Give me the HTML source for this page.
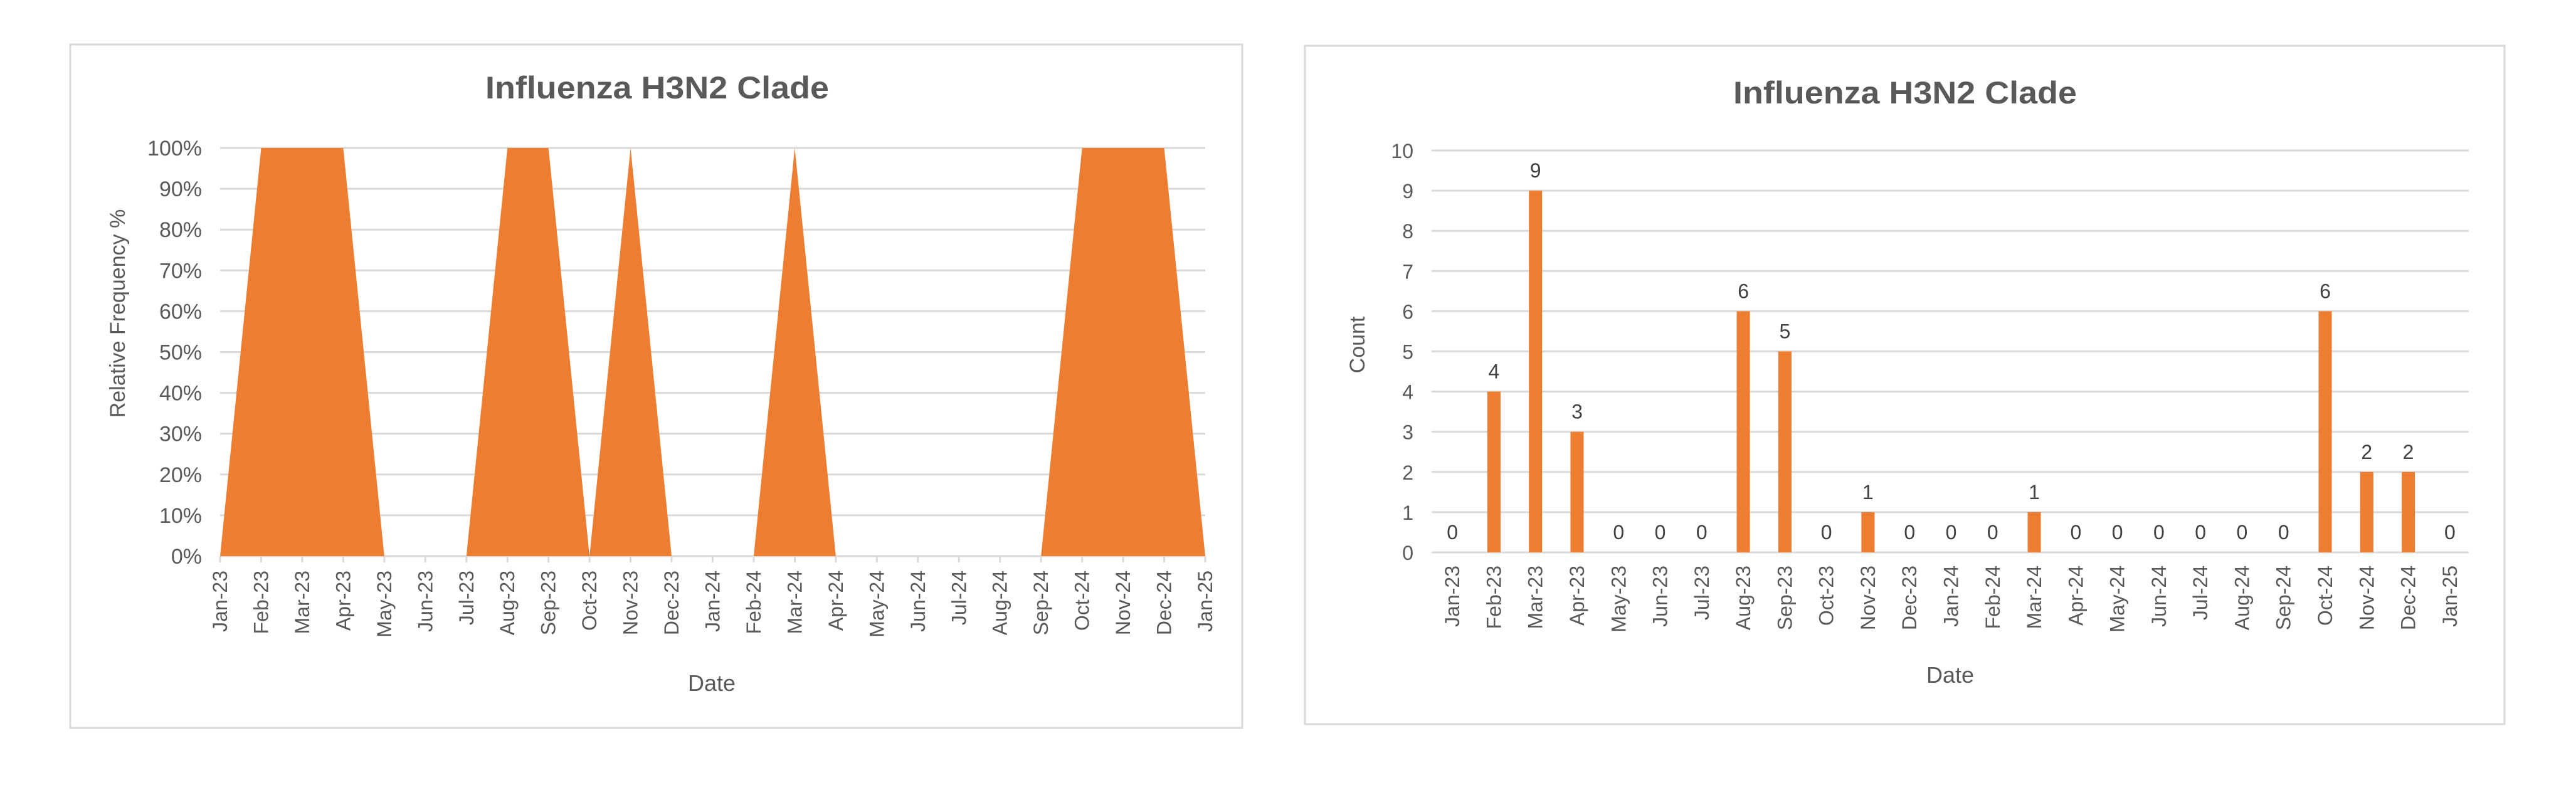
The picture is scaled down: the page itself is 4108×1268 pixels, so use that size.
<!DOCTYPE html>
<html><head><meta charset="utf-8"><style>
html,body{margin:0;padding:0;background:#fff;}
svg{display:block;font-family:"Liberation Sans",sans-serif;}
</style></head><body>
<svg id="s" width="4108" height="1268" viewBox="0 0 4108 1268" xmlns="http://www.w3.org/2000/svg">
<rect x="0" y="0" width="4108" height="1268" fill="#fff"/>
<g>
<rect x="112" y="71" width="1869" height="1090" fill="#fff" stroke="#d9d9d9" stroke-width="3"/>
<text x="1048" y="157" text-anchor="middle" font-size="50" font-weight="bold" fill="#595959" textLength="548" lengthAdjust="spacingAndGlyphs">Influenza H3N2 Clade</text>
<text transform="translate(199,500) rotate(-90)" text-anchor="middle" font-size="34" fill="#595959">Relative Frequency %</text>
<text x="1135" y="1102" text-anchor="middle" font-size="36" fill="#595959">Date</text>
<g id="aGrid"></g><g id="aArea"></g><g id="aX"></g>
</g>
<g>
<rect x="2081" y="73" width="1913" height="1082" fill="#fff" stroke="#d9d9d9" stroke-width="3"/>
<text x="3038" y="165" text-anchor="middle" font-size="50" font-weight="bold" fill="#595959" textLength="548" lengthAdjust="spacingAndGlyphs">Influenza H3N2 Clade</text>
<text transform="translate(2176,550) rotate(-90)" text-anchor="middle" font-size="34" fill="#595959">Count</text>
<text x="3110" y="1089" text-anchor="middle" font-size="36" fill="#595959">Date</text>
<g id="bGrid"></g><g id="bBars"></g><g id="bX"></g>
</g>
</svg>
<script>
const months = ["Jan-23","Feb-23","Mar-23","Apr-23","May-23","Jun-23","Jul-23","Aug-23","Sep-23","Oct-23","Nov-23","Dec-23","Jan-24","Feb-24","Mar-24","Apr-24","May-24","Jun-24","Jul-24","Aug-24","Sep-24","Oct-24","Nov-24","Dec-24","Jan-25"];
const relFreq = [0,1,1,1,0,0,0,1,1,0,1,0,0,0,1,0,0,0,0,0,0,1,1,1,0];
const counts = [0,4,9,3,0,0,0,6,5,0,1,0,0,0,1,0,0,0,0,0,0,6,2,2,0];
const pctTicks = [0,0.1,0.2,0.3,0.4,0.5,0.6,0.7,0.8,0.9,1];
const pctTickLabels = ["0%","10%","20%","30%","40%","50%","60%","70%","80%","90%","100%"];
const countTicks = [0,1,2,3,4,5,6,7,8,9,10];

const NS="http://www.w3.org/2000/svg";
function mk(tag,attrs,parent,txt){const e=document.createElementNS(NS,tag);for(const k in attrs)e.setAttribute(k,attrs[k]);if(txt!==undefined)e.textContent=txt;parent.appendChild(e);return e;}

// Area chart axes
const aL=351,aR=1922,aT=236,aB=887;
const ax=i=>aL+(aR-aL)*i/(months.length-1);
const ay=v=>aB-(aB-aT)*v;
const aGrid=document.getElementById('aGrid'),aArea=document.getElementById('aArea'),aX=document.getElementById('aX');
pctTicks.forEach((t,i)=>{
  const l=mk('line',{x1:aL,x2:aR,y1:ay(t),y2:ay(t),stroke:'#d9d9d9','stroke-width':3},aGrid);
  
  
  const tx=mk('text',{x:322,y:ay(t)+12,'text-anchor':'end','font-size':34,fill:'#595959'},aGrid,pctTickLabels[i]);
  
  
});
let d='M'+ax(0)+','+ay(0);
relFreq.forEach((v,i)=>{d+=' L'+ax(i)+','+ay(v);});
d+=' L'+ax(relFreq.length-1)+','+ay(0)+' Z';
const area=mk('path',{d:d,fill:'#ED7D31'},aArea);


months.forEach((m,i)=>{
  const tk=mk('line',{x1:ax(i),x2:ax(i),y1:aB,y2:aB+10,stroke:'#d9d9d9','stroke-width':3},aX);
  
  
  const t=mk('text',{transform:`translate(${ax(i)+11},910) rotate(-90)`,'text-anchor':'end','font-size':32,fill:'#595959'},aX,m);
  
  
});

// Bar chart axes
const bL=2283,bR=3940,bT=240,bB=881;
const band=(bR-bL)/months.length;
const bx=i=>bL+band*(i+0.5);
const by=v=>bB-(bB-bT)*v/10;
const bGrid=document.getElementById('bGrid'),bBars=document.getElementById('bBars'),bX=document.getElementById('bX');
countTicks.forEach(t=>{
  const l=mk('line',{x1:bL,x2:3937,y1:by(t),y2:by(t),stroke:'#d9d9d9','stroke-width':3},bGrid);
  
  
  const tx=mk('text',{x:2254,y:by(t)+12,'text-anchor':'end','font-size':32,fill:'#595959'},bGrid,String(t));
  
  
});
counts.forEach((v,i)=>{
  const r=mk('rect',{x:bx(i)-10.5,y:by(v),width:21,height:bB-by(v),fill:'#ED7D31'},bBars);
  
  
  const lb=mk('text',{x:bx(i),y:by(v)-32+11,'text-anchor':'middle','font-size':32,fill:'#404040'},bBars,String(v));
  
  
});
months.forEach((m,i)=>{
  const t=mk('text',{transform:`translate(${bx(i)+11},902) rotate(-90)`,'text-anchor':'end','font-size':32,fill:'#595959'},bX,m);
  
  
});
</script>
</body></html>
